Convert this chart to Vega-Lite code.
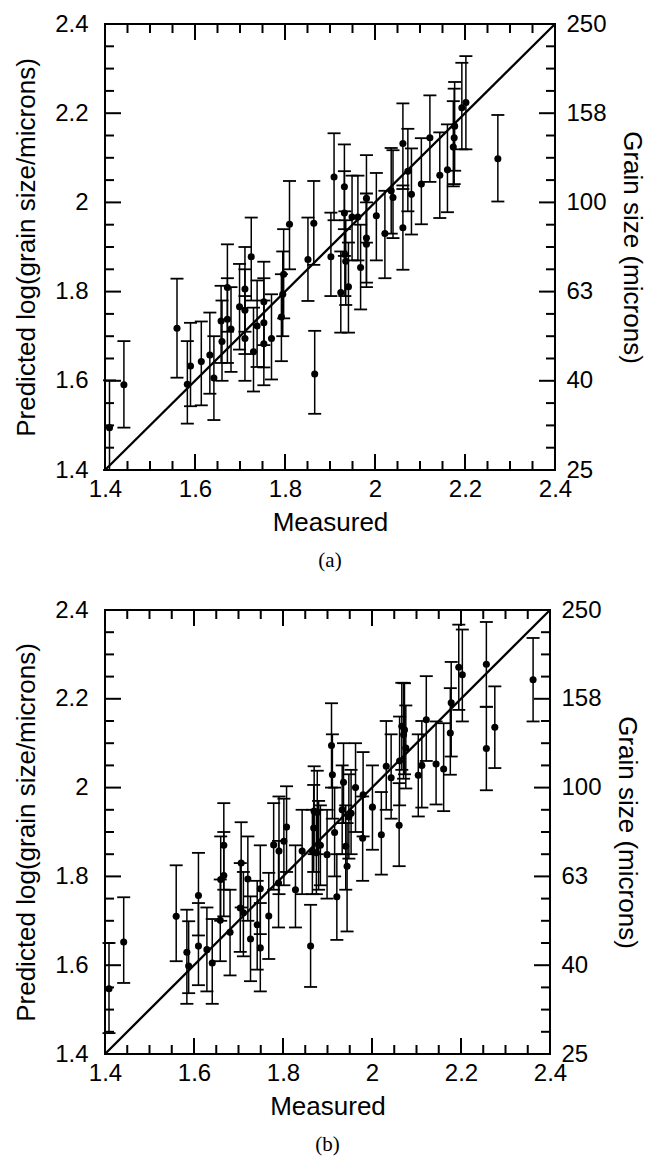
{
  "$schema": "https://vega.github.io/schema/vega-lite/v6.json",
  "padding": {"left": 12, "top": 11, "right": 5, "bottom": 5},
  "spacing": 25,
  "config": {
    "view": {"stroke": "#000", "strokeWidth": 2},
    "font": "Liberation Sans",
    "axis": {"grid": false, "domain": false, "ticks": false, "labelFont": "Liberation Sans", "labelFontSize": 24, "labelColor": "#000", "titleFont": "Liberation Sans", "titleFontSize": 26, "titleFontWeight": "normal", "titleColor": "#000", "labelFlush": false, "labelOverlap": false},
    "title": {"font": "Liberation Serif", "fontSize": 21, "fontWeight": "normal", "color": "#000"}
  },
  "datasets": {
    "diag": [{"m": 1.4, "p": 1.4}, {"m": 2.4, "p": 2.4}],
    "major": [{"v": 1.4}, {"v": 1.6}, {"v": 1.8}, {"v": 2.0}, {"v": 2.2}, {"v": 2.4}],
    "minor": [{"v": 1.45}, {"v": 1.5}, {"v": 1.55}, {"v": 1.65}, {"v": 1.7}, {"v": 1.75}, {"v": 1.85}, {"v": 1.9}, {"v": 1.95}, {"v": 2.05}, {"v": 2.1}, {"v": 2.15}, {"v": 2.25}, {"v": 2.3}, {"v": 2.35}],
    "a": [
      {"m": 1.410, "p": 1.495, "lo": 1.400, "hi": 1.601},
      {"m": 1.442, "p": 1.591, "lo": 1.495, "hi": 1.689},
      {"m": 1.560, "p": 1.718, "lo": 1.607, "hi": 1.829},
      {"m": 1.583, "p": 1.592, "lo": 1.504, "hi": 1.689},
      {"m": 1.590, "p": 1.633, "lo": 1.543, "hi": 1.730},
      {"m": 1.614, "p": 1.643, "lo": 1.545, "hi": 1.733},
      {"m": 1.633, "p": 1.658, "lo": 1.571, "hi": 1.753},
      {"m": 1.642, "p": 1.606, "lo": 1.512, "hi": 1.700},
      {"m": 1.658, "p": 1.734, "lo": 1.640, "hi": 1.813},
      {"m": 1.660, "p": 1.688, "lo": 1.600, "hi": 1.780},
      {"m": 1.672, "p": 1.809, "lo": 1.710, "hi": 1.906},
      {"m": 1.672, "p": 1.738, "lo": 1.640, "hi": 1.830},
      {"m": 1.680, "p": 1.716, "lo": 1.620, "hi": 1.810},
      {"m": 1.699, "p": 1.766, "lo": 1.670, "hi": 1.862},
      {"m": 1.711, "p": 1.806, "lo": 1.710, "hi": 1.900},
      {"m": 1.711, "p": 1.758, "lo": 1.660, "hi": 1.850},
      {"m": 1.711, "p": 1.695, "lo": 1.600, "hi": 1.790},
      {"m": 1.725, "p": 1.878, "lo": 1.780, "hi": 1.966},
      {"m": 1.730, "p": 1.665, "lo": 1.576, "hi": 1.764},
      {"m": 1.738, "p": 1.723, "lo": 1.631, "hi": 1.825},
      {"m": 1.753, "p": 1.777, "lo": 1.680, "hi": 1.867},
      {"m": 1.753, "p": 1.730, "lo": 1.630, "hi": 1.830},
      {"m": 1.753, "p": 1.683, "lo": 1.590, "hi": 1.780},
      {"m": 1.770, "p": 1.695, "lo": 1.603, "hi": 1.794},
      {"m": 1.792, "p": 1.743, "lo": 1.644, "hi": 1.839},
      {"m": 1.795, "p": 1.794, "lo": 1.700, "hi": 1.890},
      {"m": 1.797, "p": 1.839, "lo": 1.740, "hi": 1.940},
      {"m": 1.810, "p": 1.951, "lo": 1.850, "hi": 2.048},
      {"m": 1.851, "p": 1.872, "lo": 1.779, "hi": 1.966},
      {"m": 1.864, "p": 1.953, "lo": 1.860, "hi": 2.048},
      {"m": 1.866, "p": 1.615, "lo": 1.526, "hi": 1.712},
      {"m": 1.902, "p": 1.878, "lo": 1.790, "hi": 1.977},
      {"m": 1.924, "p": 1.798, "lo": 1.708, "hi": 1.890},
      {"m": 1.933, "p": 1.883, "lo": 1.790, "hi": 1.980},
      {"m": 1.935, "p": 1.868, "lo": 1.770, "hi": 1.960},
      {"m": 1.941, "p": 1.811, "lo": 1.708, "hi": 1.910},
      {"m": 1.968, "p": 1.854, "lo": 1.760, "hi": 1.950},
      {"m": 1.981, "p": 1.906, "lo": 1.810, "hi": 2.000},
      {"m": 1.909, "p": 2.057, "lo": 1.960, "hi": 2.155},
      {"m": 1.932, "p": 2.035, "lo": 1.940, "hi": 2.130},
      {"m": 1.932, "p": 1.976, "lo": 1.880, "hi": 2.070},
      {"m": 1.949, "p": 1.967, "lo": 1.870, "hi": 2.060},
      {"m": 1.962, "p": 1.967, "lo": 1.870, "hi": 2.060},
      {"m": 1.981, "p": 2.009, "lo": 1.910, "hi": 2.106},
      {"m": 1.981, "p": 1.920, "lo": 1.820, "hi": 2.020},
      {"m": 2.003, "p": 1.970, "lo": 1.870, "hi": 2.066},
      {"m": 2.022, "p": 1.930, "lo": 1.830, "hi": 2.026},
      {"m": 2.036, "p": 2.026, "lo": 1.930, "hi": 2.122},
      {"m": 2.040, "p": 2.011, "lo": 1.920, "hi": 2.117},
      {"m": 2.062, "p": 2.132, "lo": 2.030, "hi": 2.222},
      {"m": 2.062, "p": 1.943, "lo": 1.849, "hi": 2.038},
      {"m": 2.073, "p": 2.070, "lo": 1.980, "hi": 2.165},
      {"m": 2.081, "p": 2.018, "lo": 1.928, "hi": 2.121},
      {"m": 2.103, "p": 2.041, "lo": 1.951, "hi": 2.144},
      {"m": 2.122, "p": 2.145, "lo": 2.046, "hi": 2.240},
      {"m": 2.144, "p": 2.061, "lo": 1.965, "hi": 2.157},
      {"m": 2.161, "p": 2.073, "lo": 1.978, "hi": 2.175},
      {"m": 2.174, "p": 2.124, "lo": 2.036, "hi": 2.227},
      {"m": 2.176, "p": 2.145, "lo": 2.041, "hi": 2.255},
      {"m": 2.177, "p": 2.171, "lo": 2.071, "hi": 2.270},
      {"m": 2.193, "p": 2.212, "lo": 2.119, "hi": 2.313},
      {"m": 2.202, "p": 2.224, "lo": 2.119, "hi": 2.328},
      {"m": 2.273, "p": 2.098, "lo": 2.002, "hi": 2.196}
    ],
    "b": [
      {"m": 1.409, "p": 1.547, "lo": 1.447, "hi": 1.650},
      {"m": 1.442, "p": 1.652, "lo": 1.560, "hi": 1.753},
      {"m": 1.560, "p": 1.710, "lo": 1.609, "hi": 1.825},
      {"m": 1.584, "p": 1.629, "lo": 1.513, "hi": 1.725},
      {"m": 1.588, "p": 1.598, "lo": 1.537, "hi": 1.699},
      {"m": 1.610, "p": 1.757, "lo": 1.667, "hi": 1.853},
      {"m": 1.610, "p": 1.643, "lo": 1.555, "hi": 1.740},
      {"m": 1.629, "p": 1.635, "lo": 1.541, "hi": 1.730},
      {"m": 1.641, "p": 1.605, "lo": 1.513, "hi": 1.704},
      {"m": 1.659, "p": 1.701, "lo": 1.609, "hi": 1.793},
      {"m": 1.660, "p": 1.793, "lo": 1.700, "hi": 1.890},
      {"m": 1.667, "p": 1.802, "lo": 1.710, "hi": 1.900},
      {"m": 1.667, "p": 1.870, "lo": 1.770, "hi": 1.965},
      {"m": 1.681, "p": 1.674, "lo": 1.577, "hi": 1.770},
      {"m": 1.704, "p": 1.729, "lo": 1.630, "hi": 1.830},
      {"m": 1.706, "p": 1.830, "lo": 1.730, "hi": 1.922},
      {"m": 1.711, "p": 1.718, "lo": 1.620, "hi": 1.810},
      {"m": 1.721, "p": 1.794, "lo": 1.700, "hi": 1.890},
      {"m": 1.727, "p": 1.659, "lo": 1.564, "hi": 1.755},
      {"m": 1.742, "p": 1.691, "lo": 1.590, "hi": 1.790},
      {"m": 1.749, "p": 1.639, "lo": 1.541, "hi": 1.740},
      {"m": 1.749, "p": 1.772, "lo": 1.670, "hi": 1.870},
      {"m": 1.768, "p": 1.711, "lo": 1.614, "hi": 1.808},
      {"m": 1.779, "p": 1.871, "lo": 1.770, "hi": 1.965},
      {"m": 1.790, "p": 1.785, "lo": 1.685, "hi": 1.880},
      {"m": 1.791, "p": 1.857, "lo": 1.760, "hi": 1.980},
      {"m": 1.802, "p": 1.879, "lo": 1.780, "hi": 1.975},
      {"m": 1.808, "p": 1.911, "lo": 1.810, "hi": 2.003},
      {"m": 1.828, "p": 1.770, "lo": 1.685, "hi": 1.870},
      {"m": 1.843, "p": 1.857, "lo": 1.760, "hi": 1.950},
      {"m": 1.862, "p": 1.643, "lo": 1.551, "hi": 1.736},
      {"m": 1.866, "p": 1.857, "lo": 1.760, "hi": 1.950},
      {"m": 1.869, "p": 1.909, "lo": 1.810, "hi": 2.006},
      {"m": 1.870, "p": 1.947, "lo": 1.850, "hi": 2.048},
      {"m": 1.880, "p": 1.871, "lo": 1.770, "hi": 1.970},
      {"m": 1.875, "p": 1.853, "lo": 1.760, "hi": 1.950},
      {"m": 1.877, "p": 1.944, "lo": 1.850, "hi": 2.038},
      {"m": 1.884, "p": 1.870, "lo": 1.780, "hi": 1.960},
      {"m": 1.899, "p": 1.849, "lo": 1.750, "hi": 1.950},
      {"m": 1.909, "p": 2.095, "lo": 2.000, "hi": 2.190},
      {"m": 1.911, "p": 2.029, "lo": 1.930, "hi": 2.120},
      {"m": 1.916, "p": 1.899, "lo": 1.800, "hi": 2.000},
      {"m": 1.921, "p": 1.754, "lo": 1.657, "hi": 1.850},
      {"m": 1.933, "p": 1.950, "lo": 1.850, "hi": 2.050},
      {"m": 1.936, "p": 2.012, "lo": 1.920, "hi": 2.100},
      {"m": 1.941, "p": 1.868, "lo": 1.770, "hi": 1.960},
      {"m": 1.944, "p": 1.823, "lo": 1.676, "hi": 1.920},
      {"m": 1.948, "p": 1.934, "lo": 1.840, "hi": 2.030},
      {"m": 1.953, "p": 1.942, "lo": 1.850, "hi": 2.040},
      {"m": 1.963, "p": 2.000, "lo": 1.900, "hi": 2.100},
      {"m": 1.979, "p": 1.886, "lo": 1.790, "hi": 1.980},
      {"m": 1.980, "p": 1.984, "lo": 1.890, "hi": 2.080},
      {"m": 2.001, "p": 1.956, "lo": 1.860, "hi": 2.050},
      {"m": 2.021, "p": 1.894, "lo": 1.804, "hi": 1.990},
      {"m": 2.032, "p": 2.048, "lo": 1.950, "hi": 2.150},
      {"m": 2.043, "p": 2.022, "lo": 1.930, "hi": 2.120},
      {"m": 2.061, "p": 1.915, "lo": 1.823, "hi": 2.010},
      {"m": 2.067, "p": 2.138, "lo": 2.040, "hi": 2.236},
      {"m": 2.071, "p": 2.119, "lo": 2.020, "hi": 2.236},
      {"m": 2.076, "p": 2.089, "lo": 1.998, "hi": 2.185},
      {"m": 2.073, "p": 2.130, "lo": 2.030, "hi": 2.235},
      {"m": 2.062, "p": 2.060, "lo": 1.960, "hi": 2.160},
      {"m": 2.104, "p": 2.028, "lo": 1.935, "hi": 2.120},
      {"m": 2.112, "p": 2.050, "lo": 1.955, "hi": 2.150},
      {"m": 2.122, "p": 2.153, "lo": 2.060, "hi": 2.251},
      {"m": 2.144, "p": 2.053, "lo": 1.962, "hi": 2.149},
      {"m": 2.161, "p": 2.042, "lo": 1.947, "hi": 2.145},
      {"m": 2.176, "p": 2.123, "lo": 2.029, "hi": 2.224},
      {"m": 2.178, "p": 2.191, "lo": 2.070, "hi": 2.283},
      {"m": 2.195, "p": 2.271, "lo": 2.175, "hi": 2.367},
      {"m": 2.203, "p": 2.254, "lo": 2.149, "hi": 2.356},
      {"m": 2.257, "p": 2.278, "lo": 2.182, "hi": 2.373},
      {"m": 2.257, "p": 2.088, "lo": 1.994, "hi": 2.182},
      {"m": 2.276, "p": 2.136, "lo": 2.044, "hi": 2.228},
      {"m": 2.362, "p": 2.243, "lo": 2.149, "hi": 2.337}
    ]
  },
  "vconcat": [
    {
      "title": {"text": "(a)", "orient": "bottom", "offset": 15, "anchor": "middle"},
      "width": 450,
      "height": 446,
      "resolve": {"axis": {"x": "independent", "y": "independent"}},
      "layer": [
        {"data": {"name": "major"}, "mark": {"type": "rule", "color": "black", "strokeWidth": 2, "y2Offset": -16},
         "encoding": {"x": {"field": "v", "type": "quantitative", "scale": {"domain": [1.4, 2.4], "nice": false, "zero": false}, "axis": null}, "y": {"datum": 1.4, "type": "quantitative", "scale": {"domain": [1.4, 2.4], "nice": false, "zero": false}, "axis": null}, "y2": {"datum": 1.4}}},
        {"data": {"name": "minor"}, "mark": {"type": "rule", "color": "black", "strokeWidth": 2, "y2Offset": -9},
         "encoding": {"x": {"field": "v", "type": "quantitative", "axis": null}, "y": {"datum": 1.4, "type": "quantitative", "axis": null}, "y2": {"datum": 1.4}}},
        {"data": {"name": "major"}, "mark": {"type": "rule", "color": "black", "strokeWidth": 2, "y2Offset": 16},
         "encoding": {"x": {"field": "v", "type": "quantitative", "axis": null}, "y": {"datum": 2.4, "type": "quantitative", "axis": null}, "y2": {"datum": 2.4}}},
        {"data": {"name": "minor"}, "mark": {"type": "rule", "color": "black", "strokeWidth": 2, "y2Offset": 9},
         "encoding": {"x": {"field": "v", "type": "quantitative", "axis": null}, "y": {"datum": 2.4, "type": "quantitative", "axis": null}, "y2": {"datum": 2.4}}},
        {"data": {"name": "major"}, "mark": {"type": "rule", "color": "black", "strokeWidth": 2, "x2Offset": 16},
         "encoding": {"y": {"field": "v", "type": "quantitative", "axis": null}, "x": {"datum": 1.4, "type": "quantitative", "axis": null}, "x2": {"datum": 1.4}}},
        {"data": {"name": "minor"}, "mark": {"type": "rule", "color": "black", "strokeWidth": 2, "x2Offset": 9},
         "encoding": {"y": {"field": "v", "type": "quantitative", "axis": null}, "x": {"datum": 1.4, "type": "quantitative", "axis": null}, "x2": {"datum": 1.4}}},
        {"data": {"name": "major"}, "mark": {"type": "rule", "color": "black", "strokeWidth": 2, "x2Offset": -16},
         "encoding": {"y": {"field": "v", "type": "quantitative", "axis": null}, "x": {"datum": 2.4, "type": "quantitative", "axis": null}, "x2": {"datum": 2.4}}},
        {"data": {"name": "minor"}, "mark": {"type": "rule", "color": "black", "strokeWidth": 2, "x2Offset": -9},
         "encoding": {"y": {"field": "v", "type": "quantitative", "axis": null}, "x": {"datum": 2.4, "type": "quantitative", "axis": null}, "x2": {"datum": 2.4}}},
        {
          "data": {"name": "a"},
          "mark": {"type": "rule", "color": "#000", "strokeWidth": 1.5},
          "encoding": {
            "x": {"field": "m", "type": "quantitative",
                  "axis": {"orient": "bottom", "values": [1.4, 1.6, 1.8, 2, 2.2, 2.4], "format": "~g", "labelPadding": 7, "title": "Measured", "titlePadding": 8}},
            "y": {"field": "lo", "type": "quantitative",
                  "axis": {"orient": "left", "values": [1.4, 1.6, 1.8, 2, 2.2, 2.4], "format": "~g", "labelPadding": 17, "title": "Predicted log(grain size/microns)", "titlePadding": 15}},
            "y2": {"field": "hi"}
          }
        },
        {
          "data": {"name": "a"},
          "mark": {"type": "tick", "orient": "horizontal", "color": "#000", "size": 13, "thickness": 1.8, "opacity": 1},
          "encoding": {
            "x": {"field": "m", "type": "quantitative", "axis": null},
            "y": {"field": "lo", "type": "quantitative", "axis": null}
          }
        },
        {
          "data": {"name": "a"},
          "mark": {"type": "tick", "orient": "horizontal", "color": "#000", "size": 13, "thickness": 1.8, "opacity": 1},
          "encoding": {
            "x": {"field": "m", "type": "quantitative", "axis": null},
            "y": {"field": "hi", "type": "quantitative", "axis": {"orient": "right", "values": [1.4, 1.6, 1.8, 2, 2.2, 2.4], "labelPadding": 11, "labelExpr": "datum.value < 1.5 ? '25' : datum.value < 1.7 ? '40' : datum.value < 1.9 ? '63' : datum.value < 2.1 ? '100' : datum.value < 2.3 ? '158' : '250'", "title": "Grain size (microns)", "titlePadding": 12}}
          }
        },
        {
          "data": {"name": "a"},
          "mark": {"type": "circle", "color": "#000", "size": 50, "opacity": 1},
          "encoding": {
            "x": {"field": "m", "type": "quantitative", "axis": null},
            "y": {"field": "p", "type": "quantitative", "axis": null}
          }
        },
        {
          "data": {"name": "diag"},
          "mark": {"type": "line", "color": "#000", "strokeWidth": 2.3},
          "encoding": {
            "x": {"field": "m", "type": "quantitative", "axis": null},
            "y": {"field": "p", "type": "quantitative", "axis": null}
          }
        }
      ]
    },
    {
      "title": {"text": "(b)", "orient": "bottom", "offset": 15, "anchor": "middle"},
      "width": 445,
      "height": 444,
      "resolve": {"axis": {"x": "independent", "y": "independent"}},
      "layer": [
        {"data": {"name": "major"}, "mark": {"type": "rule", "color": "black", "strokeWidth": 2, "y2Offset": -16},
         "encoding": {"x": {"field": "v", "type": "quantitative", "scale": {"domain": [1.4, 2.4], "nice": false, "zero": false}, "axis": null}, "y": {"datum": 1.4, "type": "quantitative", "scale": {"domain": [1.4, 2.4], "nice": false, "zero": false}, "axis": null}, "y2": {"datum": 1.4}}},
        {"data": {"name": "minor"}, "mark": {"type": "rule", "color": "black", "strokeWidth": 2, "y2Offset": -9},
         "encoding": {"x": {"field": "v", "type": "quantitative", "axis": null}, "y": {"datum": 1.4, "type": "quantitative", "axis": null}, "y2": {"datum": 1.4}}},
        {"data": {"name": "major"}, "mark": {"type": "rule", "color": "black", "strokeWidth": 2, "y2Offset": 16},
         "encoding": {"x": {"field": "v", "type": "quantitative", "axis": null}, "y": {"datum": 2.4, "type": "quantitative", "axis": null}, "y2": {"datum": 2.4}}},
        {"data": {"name": "minor"}, "mark": {"type": "rule", "color": "black", "strokeWidth": 2, "y2Offset": 9},
         "encoding": {"x": {"field": "v", "type": "quantitative", "axis": null}, "y": {"datum": 2.4, "type": "quantitative", "axis": null}, "y2": {"datum": 2.4}}},
        {"data": {"name": "major"}, "mark": {"type": "rule", "color": "black", "strokeWidth": 2, "x2Offset": 16},
         "encoding": {"y": {"field": "v", "type": "quantitative", "axis": null}, "x": {"datum": 1.4, "type": "quantitative", "axis": null}, "x2": {"datum": 1.4}}},
        {"data": {"name": "minor"}, "mark": {"type": "rule", "color": "black", "strokeWidth": 2, "x2Offset": 9},
         "encoding": {"y": {"field": "v", "type": "quantitative", "axis": null}, "x": {"datum": 1.4, "type": "quantitative", "axis": null}, "x2": {"datum": 1.4}}},
        {"data": {"name": "major"}, "mark": {"type": "rule", "color": "black", "strokeWidth": 2, "x2Offset": -16},
         "encoding": {"y": {"field": "v", "type": "quantitative", "axis": null}, "x": {"datum": 2.4, "type": "quantitative", "axis": null}, "x2": {"datum": 2.4}}},
        {"data": {"name": "minor"}, "mark": {"type": "rule", "color": "black", "strokeWidth": 2, "x2Offset": -9},
         "encoding": {"y": {"field": "v", "type": "quantitative", "axis": null}, "x": {"datum": 2.4, "type": "quantitative", "axis": null}, "x2": {"datum": 2.4}}},
        {
          "data": {"name": "b"},
          "mark": {"type": "rule", "color": "#000", "strokeWidth": 1.5},
          "encoding": {
            "x": {"field": "m", "type": "quantitative",
                  "axis": {"orient": "bottom", "values": [1.4, 1.6, 1.8, 2, 2.2, 2.4], "format": "~g", "labelPadding": 7, "title": "Measured", "titlePadding": 8}},
            "y": {"field": "lo", "type": "quantitative",
                  "axis": {"orient": "left", "values": [1.4, 1.6, 1.8, 2, 2.2, 2.4], "format": "~g", "labelPadding": 17, "title": "Predicted log(grain size/microns)", "titlePadding": 15}},
            "y2": {"field": "hi"}
          }
        },
        {
          "data": {"name": "b"},
          "mark": {"type": "tick", "orient": "horizontal", "color": "#000", "size": 13, "thickness": 1.8, "opacity": 1},
          "encoding": {
            "x": {"field": "m", "type": "quantitative", "axis": null},
            "y": {"field": "lo", "type": "quantitative", "axis": null}
          }
        },
        {
          "data": {"name": "b"},
          "mark": {"type": "tick", "orient": "horizontal", "color": "#000", "size": 13, "thickness": 1.8, "opacity": 1},
          "encoding": {
            "x": {"field": "m", "type": "quantitative", "axis": null},
            "y": {"field": "hi", "type": "quantitative", "axis": {"orient": "right", "values": [1.4, 1.6, 1.8, 2, 2.2, 2.4], "labelPadding": 11, "labelExpr": "datum.value < 1.5 ? '25' : datum.value < 1.7 ? '40' : datum.value < 1.9 ? '63' : datum.value < 2.1 ? '100' : datum.value < 2.3 ? '158' : '250'", "title": "Grain size (microns)", "titlePadding": 12}}
          }
        },
        {
          "data": {"name": "b"},
          "mark": {"type": "circle", "color": "#000", "size": 50, "opacity": 1},
          "encoding": {
            "x": {"field": "m", "type": "quantitative", "axis": null},
            "y": {"field": "p", "type": "quantitative", "axis": null}
          }
        },
        {
          "data": {"name": "diag"},
          "mark": {"type": "line", "color": "#000", "strokeWidth": 2.3},
          "encoding": {
            "x": {"field": "m", "type": "quantitative", "axis": null},
            "y": {"field": "p", "type": "quantitative", "axis": null}
          }
        }
      ]
    }
  ]
}
